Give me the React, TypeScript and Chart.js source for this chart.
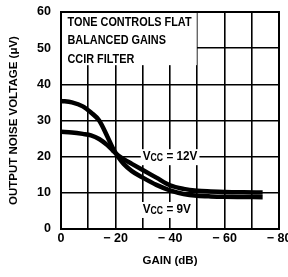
import React, { useEffect, useRef } from 'react';
import { Chart, registerables } from 'chart.js';

Chart.register(...registerables);

const FONT = "'Liberation Sans', Arial, sans-serif";

// Data
const gain = [0, -4, -8, -11, -14, -17, -19, -21, -23, -26, -30, -35, -40, -45, -50, -55, -60, -67, -74];
const noise12V = [35.4, 35.0, 33.9, 32.2, 30.0, 25.6, 22.4, 19.9, 18.0, 16.0, 14.2, 12.2, 10.7, 9.7, 9.2, 9.0, 8.9, 8.85, 8.8];
const noise9V = [26.9, 26.7, 26.3, 25.9, 24.9, 23.2, 21.7, 20.3, 19.3, 18.0, 16.3, 14.2, 12.1, 11.1, 10.6, 10.4, 10.25, 10.15, 10.1];

const xTicksShown = [0, -20, -40, -60, -80];
const noteLines = ['TONE CONTROLS FLAT', 'BALANCED GAINS', 'CCIR FILTER'];
const seriesLabels = [
  { sub: 'CC', main: 'V', rest: ' = 12V', gx: -30, gy: 20 },
  { sub: 'CC', main: 'V', rest: ' = 9V', gx: -30, gy: 5.4 },
];
const yTitle = 'OUTPUT NOISE VOLTAGE (\u03bcV)';
const xTitle = 'GAIN (dB)';

const annotPlugin = {
  id: 'annot',
  beforeDatasetsDraw(chart: any) {
    const { ctx, scales } = chart;
    const x = scales.x, y = scales.y;
    const x0 = x.getPixelForValue(0), x1 = x.getPixelForValue(-50);
    const y0 = y.getPixelForValue(60), y1 = y.getPixelForValue(45.3);
    ctx.save();
    ctx.fillStyle = '#fff';
    ctx.fillRect(x0 + 1, y0 + 1, x1 - x0 - 1.5, y1 - y0 - 1);
    ctx.fillStyle = '#000';
    ctx.font = `bold 12.5px ${FONT}`;
    ctx.textBaseline = 'middle';
    ctx.textAlign = 'left';
    noteLines.forEach((t, i) => {
      ctx.save();
      ctx.translate(x0 + 6.5, y0 + 10.5 + i * 18.5);
      ctx.scale(0.87, 1);
      ctx.fillText(t, 0, 0);
      ctx.restore();
    });
    ctx.restore();
  },
  afterDatasetsDraw(chart: any) {
    const { ctx, scales, chartArea } = chart;
    const x = scales.x, y = scales.y;
    ctx.save();
    ctx.textBaseline = 'middle';
    ctx.textAlign = 'left';
    seriesLabels.forEach((l) => {
      const px = x.getPixelForValue(l.gx);
      const py = y.getPixelForValue(l.gy);
      const sx = 0.87;
      ctx.font = `bold 13.5px ${FONT}`;
      const w1 = ctx.measureText(l.main).width;
      const w3 = ctx.measureText(l.rest).width;
      ctx.font = `bold 10px ${FONT}`;
      const w2 = ctx.measureText(l.sub).width;
      const total = (w1 + w2 + w3) * sx;
      ctx.fillStyle = '#fff';
      ctx.fillRect(px - 2, py - 7.5, total + 4, 16);
      ctx.save();
      ctx.translate(px, py);
      ctx.scale(sx, 1);
      ctx.fillStyle = '#000';
      ctx.font = `bold 13.5px ${FONT}`;
      ctx.fillText(l.main, 0, 0);
      ctx.font = `bold 10px ${FONT}`;
      ctx.fillText(l.sub, w1, 2);
      ctx.font = `bold 13.5px ${FONT}`;
      ctx.fillText(l.rest, w1 + w2, 0);
      ctx.restore();
    });
    ctx.strokeStyle = '#000';
    ctx.lineWidth = 2;
    ctx.strokeRect(chartArea.left, chartArea.top, chartArea.right - chartArea.left, chartArea.bottom - chartArea.top);
    ctx.restore();
  },
};

export default function App() {
  const ref = useRef<HTMLCanvasElement>(null);
  useEffect(() => {
    document.body.style.margin = '0';
    const canvas = ref.current!;
    const chart = new Chart(canvas, {
      type: 'line',
      data: {
        datasets: [
          {
            label: 'VCC = 12V',
            data: gain.map((g, i) => ({ x: g, y: noise12V[i] })),
            borderColor: '#000',
            borderWidth: 4.5,
            pointRadius: 0,
            cubicInterpolationMode: 'monotone',
            fill: false,
          },
          {
            label: 'VCC = 9V',
            data: gain.map((g, i) => ({ x: g, y: noise9V[i] })),
            borderColor: '#000',
            borderWidth: 4.5,
            pointRadius: 0,
            cubicInterpolationMode: 'monotone',
            fill: false,
          },
        ],
      },
      options: {
        responsive: false,
        animation: false,
        devicePixelRatio: 1,
        layout: { padding: { top: 12, right: 9, left: 0, bottom: 0 } },
        plugins: { legend: { display: false }, tooltip: { enabled: false } },
        scales: {
          x: {
            type: 'linear',
            min: -80,
            max: 0,
            reverse: true,
            grid: { color: '#000', lineWidth: 1.6, drawTicks: false },
            border: { display: false },
            ticks: {
              stepSize: 10,
              autoSkip: false,
              maxRotation: 0,
              padding: 2,
              color: '#000',
              font: { family: FONT, size: 12.5, weight: 'bold' },
              callback: (v: any) => {
                const n = Number(v);
                if (!xTicksShown.includes(n)) return '';
                return n === 0 ? '0' : '\u2212 ' + Math.abs(n);
              },
            },
            title: {
              display: true,
              text: xTitle,
              color: '#000',
              font: { family: FONT, size: 11.5, weight: 'bold' },
              padding: { top: 4, bottom: 9 },
            },
            afterFit: (s: any) => {
              s.height = 48;
              s.paddingLeft = 0;
              s.paddingRight = 0;
            },
          },
          y: {
            min: 0,
            max: 60,
            grid: { color: '#000', lineWidth: 1.6, drawTicks: false },
            border: { display: false },
            ticks: {
              stepSize: 10,
              padding: 10,
              color: '#000',
              font: { family: FONT, size: 12.5, weight: 'bold' },
            },
            title: {
              display: true,
              text: yTitle,
              color: '#000',
              font: { family: FONT, size: 11.5, weight: 'bold' },
              padding: { top: 7, bottom: 4 },
            },
            afterFit: (s: any) => {
              s.width = 61;
              s.paddingTop = 0;
              s.paddingBottom = 0;
            },
          },
        },
      },
      plugins: [annotPlugin],
    } as any);
    return () => chart.destroy();
  }, []);
  return (
    <div style={{ width: 288, height: 277, background: '#fff' }}>
      <canvas ref={ref} width={288} height={277} style={{ display: 'block' }} />
    </div>
  );
}
